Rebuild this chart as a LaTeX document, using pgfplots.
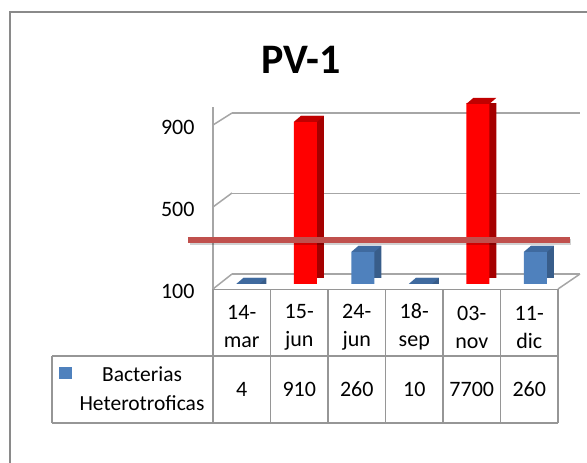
\documentclass[border=0pt]{standalone}
\usepackage{pgfplots}
\pgfplotsset{compat=1.18}
\usepackage{pgfplotstable}
\usepackage{fontspec}
\setmainfont{Carlito}

\definecolor{bluefront}{HTML}{4F81BD}
\definecolor{blueside}{HTML}{385D8A}
\definecolor{bluetop}{HTML}{3F6A9F}
\definecolor{redfront}{HTML}{FF0000}
\definecolor{redside}{HTML}{A50000}
\definecolor{redtop}{HTML}{C00000}
\definecolor{gridgray}{HTML}{A6A6A6}
\definecolor{tablegray}{HTML}{969696}
\definecolor{bordergray}{HTML}{8A8A8A}
\definecolor{limitred}{HTML}{C0504D}

\pgfdeclareplotmark{topface}{%
  \pgfpathmoveto{\pgfpoint{-11.5pt}{0pt}}%
  \pgfpathlineto{\pgfpoint{11.5pt}{0pt}}%
  \pgfpathlineto{\pgfpoint{18.5pt}{6pt}}%
  \pgfpathlineto{\pgfpoint{-4.5pt}{6pt}}%
  \pgfpathclose\pgfusepathqfill}

\pgfplotstableread{
x y
0 4
2 260
3 10
5 260
}\bluedata
\pgfplotstableread{
x y
1 910
4 7700
}\reddata

\begin{document}
\begin{tikzpicture}[x=1pt,y=1pt]
\useasboundingbox (0,0) rectangle (587,463);
% outer chart border
\draw[bordergray, line width=2pt] (10,0) -- (10,451) -- (587,451);
% title
\node[font=\fontsize{42}{50}\selectfont\bfseries] at (301,403) {PV-1};

% back wall gridlines
\begin{axis}[at={(232pt,189pt)}, anchor=south west, scale only axis,
  width=348pt, height=179pt, xmin=0, xmax=1, ymin=100, ymax=990,
  ytick={100,500,900}, xtick=\empty, yticklabels={},
  ymajorgrids, major grid style={color=gridgray, line width=1.5pt},
  axis line style={draw=none}, major tick length=0pt]
\end{axis}

% floor and wall diagonals
\draw[gridgray, line width=1.5pt] (213,174) -- (232,189);
\draw[gridgray, line width=1.5pt] (213,256) -- (232,270);
\draw[gridgray, line width=1.5pt] (213,338) -- (232,350);
\draw[gridgray, line width=1.5pt] (558,174) -- (580,189);

% bars (mid-depth plane)
\begin{axis}[at={(219pt,179pt)}, anchor=south west, scale only axis,
  width=345pt, height=180pt, xmin=-0.5, xmax=5.5, ymin=100, ymax=1000,
  axis lines=none]
\addplot[ybar, bar width=23pt, bar shift=7pt, yshift=6pt, fill=blueside, draw=none] table {\bluedata};
\addplot[ybar, bar width=23pt, bar shift=0pt, fill=bluefront, draw=none] table {\bluedata};
\addplot[only marks, mark=topface, mark options={fill=bluetop, draw=none},
  y filter/.expression={min(max(y,100),1000)}] table {\bluedata};
\addplot[ybar, bar width=23pt, bar shift=7pt, yshift=6pt, fill=redside, draw=none] table {\reddata};
\addplot[ybar, bar width=23pt, bar shift=0pt, fill=redfront, draw=none] table {\reddata};
\addplot[only marks, mark=topface, mark options={fill=redtop, draw=none},
  y filter/.expression={min(max(y,100),1000)}] table {\reddata};
\end{axis}

% front plane: y axis and labels, limit line
\begin{axis}[at={(213pt,174pt)}, anchor=south west, scale only axis,
  width=345pt, height=182.5pt, xmin=-0.5, xmax=5.5, ymin=100, ymax=990,
  axis x line=none, axis y line*=left,
  y axis line style={color=gridgray, line width=1.5pt, -},
  ytick={100,500,900}, major tick length=0pt,
  /pgf/number format/assume math mode=true,
  yticklabel style={font=\fontsize{22}{24}\selectfont, xshift=-15pt, yshift=-2pt},
  clip=false]
\draw[black, opacity=0.18, line width=6pt] (axis cs:-0.9,330) -- (axis cs:5.73,330);
\draw[limitred, line width=6pt] (axis cs:-0.935,339) -- (axis cs:5.71,339);
\end{axis}

% data table
\begin{scope}[tablegray, line width=1.5pt]
\draw (213,173.5) -- (558,173.5);
\draw (52,107) -- (558,107);
\draw (52,40) -- (558,40);
\draw (52,107) -- (52,40);
\foreach \k in {0,...,6} {\draw ({213+57.5*\k},173.5) -- ({213+57.5*\k},40);}
\end{scope}
\begin{scope}[font=\fontsize{22}{28}\selectfont]
\node[align=center] at (241.75,136) {14-\\mar};
\node[align=center] at (299.25,136) {15-\\jun};
\node[align=center] at (356.75,136) {24-\\jun};
\node[align=center] at (414.25,136) {18-\\sep};
\node[align=center] at (471.75,136) {03-\\nov};
\node[align=center] at (529.25,136) {11-\\dic};
\node at (241.75,74) {4};
\node at (299.25,74) {910};
\node at (356.75,74) {260};
\node at (414.25,74) {10};
\node at (471.75,74) {7700};
\node at (529.25,74) {260};
\node[align=center, font=\fontsize{21.5}{29}\selectfont] at (142,74.5) {Bacterias\\Heterotroficas};
\end{scope}
\fill[bluefront] (59,84) rectangle (72,96);
\end{tikzpicture}
\end{document}
